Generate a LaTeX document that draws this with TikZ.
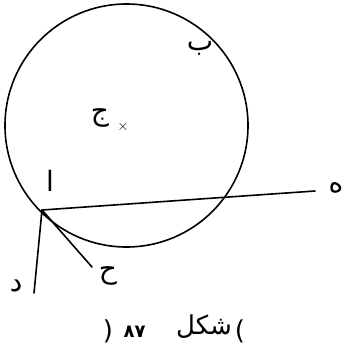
\documentclass[tikz,border=0pt]{standalone}
\usepackage{fontspec}
\newfontfamily\arabicfont[Script=Arabic]{DejaVu Sans}
\TeXXeTstate=1
\begin{document}
\begin{tikzpicture}[x=1pt,y=-1pt,
  geo/.style={line width=1.6pt, line cap=round},
  lbl/.style={font=\arabicfont\fontsize{28}{30}\selectfont, inner sep=0pt},
  captxt/.style={font=\arabicfont\fontsize{26}{28}\selectfont, inner sep=0pt},
  capdig/.style={font=\arabicfont\bfseries\fontsize{18}{20}\selectfont, inner sep=0pt}]
\useasboundingbox (0,0) rectangle (347,348);
\coordinate (O) at (126.5,125.5);
\draw[geo] (O) circle[radius=121.5];
\coordinate (A) at (42,210);
\coordinate (H) at (315,191);
\coordinate (D) at (34,293);
\coordinate (Hh) at (92,267);
\draw[geo] (A) -- (H);
\draw[geo] (A) -- (D);
\draw[geo] (A) -- (Hh);
\node[font=\bfseries\Large, inner sep=0pt] (c) at (123,127) {$\times$};
\node[lbl] (lA) at (50,181) {\beginR ا\endR};
\node[lbl] (lB) at (200,48) {\beginR ب\endR};
\node[lbl] (lJ) at (100,118) {\beginR ج\endR};
\node[lbl] (lH) at (336,188) {\beginR ه\endR};
\node[lbl] (lD) at (16,286) {\beginR د\endR};
\node[lbl] (lHh) at (108,276) {\beginR ح\endR};
\node[captxt] (p1) at (108,331) {(};
\node[capdig] (d8) at (129,332) {\beginR ٨\endR};
\node[capdig] (d7) at (140,332) {\beginR ٧\endR};
\node[captxt] (w) at (204,327) {\beginR شكل\endR};
\node[captxt] (p2) at (240,331) {)};
\end{tikzpicture}
\end{document}
